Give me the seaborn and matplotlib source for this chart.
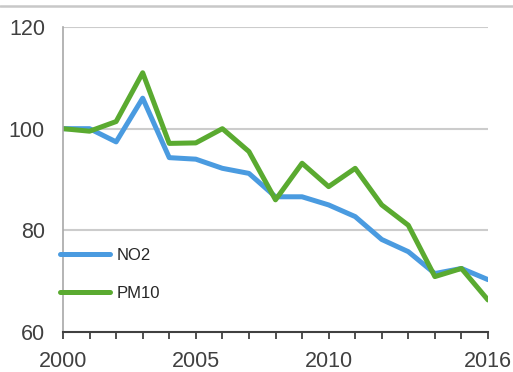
import matplotlib
matplotlib.use("Agg")
import matplotlib.pyplot as plt
from matplotlib.lines import Line2D
import seaborn as sns
import pandas as pd

years = list(range(2000, 2017))
no2 = [100, 100, 97.4, 106, 94.3, 94, 92.2, 91.2, 86.6, 86.6, 85, 82.7, 78.2, 75.8, 71.5, 72.5, 70.3]
pm10 = [100, 99.5, 101.4, 111, 97.1, 97.2, 100, 95.5, 86, 93.2, 88.6, 92.2, 85, 81, 70.9, 72.5, 66.3]
series_names = ["NO2", "PM10"]
year_labels = [2000, 2005, 2010, 2016]
y_ticks = [60, 80, 100, 120]

df = pd.DataFrame({
    "year": years * 2,
    "value": no2 + pm10,
    "series": [series_names[0]] * len(years) + [series_names[1]] * len(years),
})

sns.set_theme(style="white")
plt.rcParams["font.family"] = ["Liberation Sans", "DejaVu Sans"]

colors = {"NO2": "#4a9be0", "PM10": "#5aaa30"}

fig = plt.figure(figsize=(5.13, 3.72), dpi=100)
ax = fig.add_axes([63 / 513, 1 - 332 / 372, (488 - 63) / 513, (332 - 27) / 372])

sns.lineplot(data=df, x="year", y="value", hue="series", palette=colors,
             linewidth=3.6, ax=ax, legend=False)

ax.set_xlim(2000, 2016)
ax.set_ylim(60, 120)
ax.set_xlabel("")
ax.set_ylabel("")

ax.set_yticks(y_ticks)
ax.set_xticks(years)
ax.set_xticklabels([str(y) if y in year_labels else "" for y in years])

for y in [80, 100, 120]:
    ax.axhline(y, color="#cccccc", linewidth=1.5, zorder=0)

for side in ["top", "right"]:
    ax.spines[side].set_visible(False)
ax.spines["left"].set_color("#a8a8a8")
ax.spines["left"].set_linewidth(1.2)
ax.spines["bottom"].set_color("#404040")
ax.spines["bottom"].set_linewidth(1.5)

ax.tick_params(axis="y", length=0, pad=13, labelsize=15.5, labelcolor="#404040")
ax.tick_params(axis="x", bottom=True, direction="out", length=5, width=1.3,
               color="#404040", pad=9, labelsize=15.5, labelcolor="#404040")

handles = [Line2D([], [], color=colors[n], linewidth=3.6) for n in series_names]
ax.legend(handles, series_names, loc="upper left", bbox_to_anchor=(-0.007, 0.275),
          frameon=False, borderaxespad=0, borderpad=0, fontsize=12,
          handlelength=3.0, handletextpad=0.4, labelspacing=1.35)

fig.add_artist(Line2D([0, 1], [1 - 5.5 / 372, 1 - 5.5 / 372], color="#c8c8c8",
                      linewidth=1.8, transform=fig.transFigure))

fig.savefig("out.png", dpi=100, facecolor="white")
